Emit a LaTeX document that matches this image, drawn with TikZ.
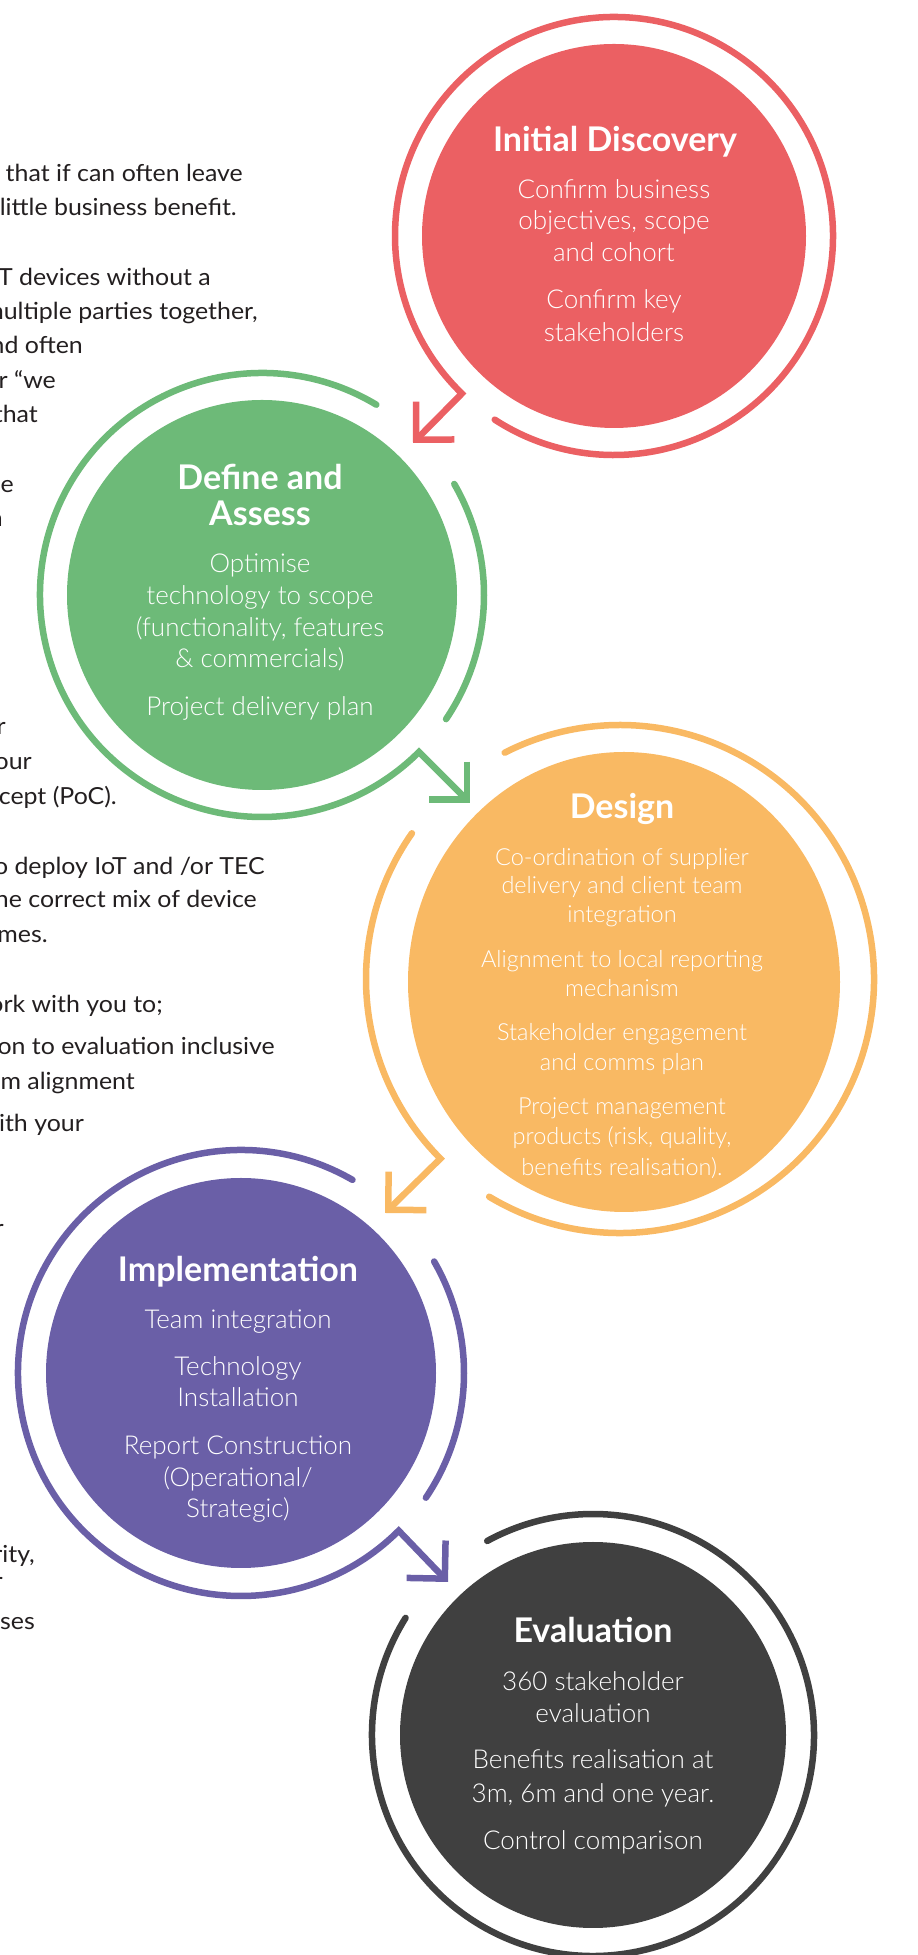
\documentclass[tikz,border=0pt]{standalone}
\usepackage{fontspec}
\setmainfont{Lato}
\newfontfamily\lightfont{Lato Light}
\newfontfamily\copyfont{Lato}[FakeStretch=1.06]
\usetikzlibrary{arrows.meta,shapes.geometric}

\definecolor{discred}{HTML}{EB6063}
\definecolor{defgreen}{HTML}{6DBA78}
\definecolor{desorange}{HTML}{F9B963}
\definecolor{implpurple}{HTML}{6A5FA7}
\definecolor{evalgrey}{HTML}{404040}
\definecolor{copytext}{HTML}{231F20}

\tikzstyle{phase}=[circle,inner sep=0pt]
\tikzstyle{ring}=[line width=6.5pt,line cap=round]
\tikzstyle{ring arrow}=[ring,-{Straight Barb[length=27pt,width=54pt]}]
\tikzstyle{phase title}=[anchor=base,text=white,inner sep=0pt,font=\bfseries\fontsize{34}{40}\selectfont]
\tikzstyle{phase text}=[anchor=base,text=white,inner sep=0pt,font=\lightfont\fontsize{26}{31}\selectfont]
\tikzstyle{copy}=[anchor=base east,text=copytext,inner sep=0pt,font=\copyfont\fontsize{23.5}{28}\selectfont]

\begin{document}
\begin{tikzpicture}[x=1pt,y=1pt]
    \useasboundingbox (0,0) rectangle (918,1955);
    % cut-off copy on the left
    \foreach \xx/\yy/\txt [count=\i] in {243/1773/{n that if can often leave}, 237/1739/{y little business benefit.},
            211/1669/{oT devices without a}, 258/1635/{multiple parties together,}, 83/1601/{nd often},
            56/1566/{er “we}, 38/1532/{that}, 14/1462/{le}, 3/1428/{n}, 6/1220/{r}, 32/1185/{our},
            117/1150/{cept (PoC).}, 265/1080/{o deploy IoT and /or TEC}, 257/1047/{he correct mix of device},
            48/1012/{mes.}, 163/942/{ork with you to;}, 275/900/{ion to evaluation inclusive},
            135/865/{m alignment}, 84/823/{with your}, 4/718/{r}, 35/392/{rity,}, 3/365/{r}, 35/325/{ses}}
        \node[copy] (copy\i) at (\xx,\yy) {\txt};

    % phases
    \node[phase,fill=discred,minimum size=384pt] (disc) at (614,1719) {};
    \node[phase,fill=defgreen,minimum size=390pt] (define) at (262,1360) {};
    \node[ellipse,inner sep=0pt,fill=desorange,minimum width=432pt,minimum height=460pt] (design) at (624,973) {};
    \node[phase,fill=implpurple,minimum size=390pt] (impl) at (241,582) {};
    \node[phase,fill=evalgrey,minimum size=386pt] (eval) at (593,220) {};

    \coordinate (ringC) at (620,976);
    \coordinate (tipA) at (413,1512);
    \coordinate (tipB) at (470,1152);
    \coordinate (tipC) at (385,742);
    \coordinate (tipD) at (448,373);

    % rings and arrows
    \draw[ring arrow,discred] (disc.center) ++(-123:219) arc[start angle=-123,end angle=226,radius=219] -- (tipA);
    \draw[ring arrow,defgreen] (define.center) ++(59:222) arc[start angle=59,end angle=315,radius=222] -- (tipB);
    \draw[ring,defgreen] (define.center) ++(30:222) arc[start angle=30,end angle=-34,radius=222];
    \draw[ring,desorange] (ringC) ++(239:254) arc[start angle=239,end angle=477,radius=254];
    \draw[ring arrow,desorange] (ringC) ++(145:254) arc[start angle=145,end angle=225,radius=254] -- (tipC);
    \draw[ring arrow,implpurple] (impl.center) ++(60:223) arc[start angle=60,end angle=315,radius=223] -- (tipD);
    \draw[ring,implpurple] (impl.center) ++(30:223) arc[start angle=30,end angle=-34,radius=223];
    \draw[ring,evalgrey] (eval.center) ++(148:221) arc[start angle=148,end angle=478.6,radius=221];

    % titles
    \foreach \name/\xx/\yy/\txt in {disc/615/1803/{Initial Discovery}, define/260/1465/{Define and},
            assess/260/1429/{Assess}, design/622/1136/{Design}, impl/238/673/{Implementation},
            eval/593/312/{Evaluation}}
        \node[phase title] (\name-title) at (\xx,\yy) {\txt};

    % phase texts
    \foreach \yy/\txt [count=\i] in {1756/{Confirm business}, 1725/{objectives, scope}, 1693/{and cohort},
            1646/{Confirm key}, 1613/{stakeholders}}
        \node[phase text] (disc-\i) at (614,\yy) {\txt};
    \foreach \yy/\txt [count=\i] in {1382/{Optimise}, 1350/{technology to scope}, 1318/{(functionality, features},
            1287/{\& commercials)}, 1239/{Project delivery plan}}
        \node[phase text] (define-\i) at (260,\yy) {\txt};
    \foreach \yy/\txt [count=\i] in {1089/{Co-ordination of supplier}, 1061/{delivery and client team},
            1032/{integration}, 987/{Alignment to local reporting}, 958/{mechanism},
            914/{Stakeholder engagement}, 884/{and comms plan}, 840/{Project management},
            810/{products (risk, quality,}, 779/{benefits realisation).}}
        \node[phase text,font=\lightfont\fontsize{23.5}{28}\selectfont] (design-\i) at (622,\yy) {\txt};
    \foreach \yy/\txt [count=\i] in {626/{Team integration}, 579/{Technology}, 548/{Installation},
            500/{Report Construction}, 468/{(Operational/}, 437/{Strategic)}}
        \node[phase text] (impl-\i) at (238,\yy) {\txt};
    \foreach \yy/\txt [count=\i] in {264/{360 stakeholder}, 232/{evaluation}, 186/{Benefits realisation at},
            152/{3m, 6m and one year.}, 105/{Control comparison}}
        \node[phase text] (eval-\i) at (593,\yy) {\txt};
\end{tikzpicture}
\end{document}
